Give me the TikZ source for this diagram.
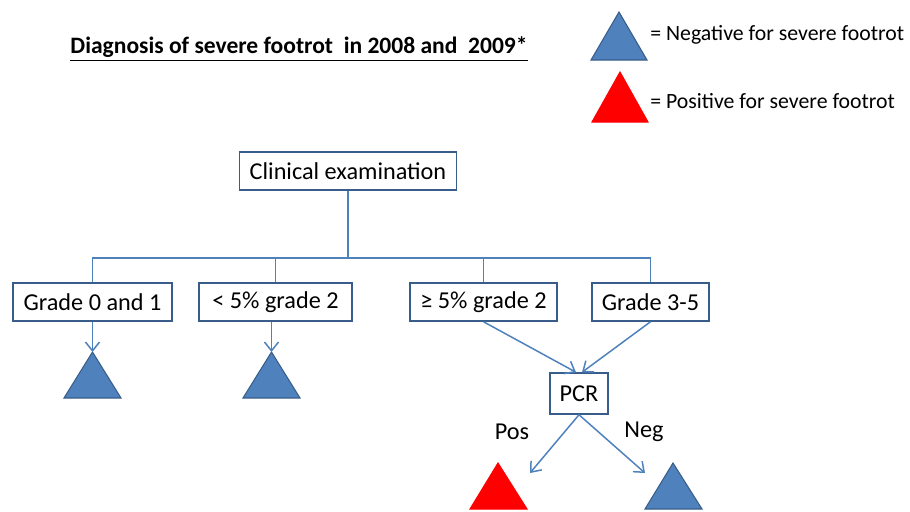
\documentclass[tikz,border=0pt]{standalone}
\usepackage{fontspec}
\setmainfont{Carlito}
\usepackage{xcolor}
\usepackage{tikz}
\usetikzlibrary{positioning, arrows.meta, calc}

\definecolor{lineblue}{RGB}{79,129,189}
\definecolor{edgeblue}{RGB}{56,93,138}
\definecolor{posred}{RGB}{255,0,0}
\newcommand{\pxu}{0.02cm}

\tikzset{
  box/.style={draw=edgeblue, line width=0.85pt, fill=white, minimum height=38*\pxu, inner sep=1pt, font=\fontsize{13.8}{16}\selectfont},
  link/.style={draw=lineblue, line width=0.85pt},
  arr/.style={link, -{Straight Barb[length=5pt, width=8pt]}},
  negtri/.style={fill=lineblue, draw=edgeblue, line width=0.6pt},
  postri/.style={fill=posred, draw=posred, line width=0.6pt},
  lbl/.style={font=\fontsize{13.8}{16}\selectfont}
}

\begin{document}
\begin{tikzpicture}[x=0.02cm, y=-0.02cm]
  \clip (0,0) rectangle (910,511);
  % title and legend
  \node[font=\fontsize{13.4}{16}\bfseries] (title) at (299,49) {\underline{Diagnosis of severe footrot\ \ in 2008 and\ \ 2009*}};
  \draw[negtri] (591,60) -- (619,12) -- (647,60) -- cycle;
  \draw[postri] (592,122) -- (620,72) -- (648,122) -- cycle;
  \node[anchor=west, inner sep=0pt, font=\fontsize{12.4}{15}\selectfont] (negkey) at (650,35) {= Negative for severe footrot};
  \node[anchor=west, inner sep=0pt, font=\fontsize{12.4}{15}\selectfont] (poskey) at (650,101) {= Positive for severe footrot};

  % decision tree
  \node[box, minimum width=217*\pxu] (clin) at (348,171) {Clinical examination};
  \node[box, minimum width=159*\pxu] (g0) at (92.5,302) {Grade 0 and 1};
  \node[box, minimum width=153*\pxu] (g1) at (275.5,302) {< 5\% grade 2};
  \node[box, minimum width=147*\pxu] (g2) at (483.5,302) {≥ 5\% grade 2};
  \node[box, minimum width=117*\pxu] (g3) at (650.5,302) {Grade 3-5};
  \node[box, minimum width=58*\pxu, minimum height=41*\pxu] (pcr) at (579,393.5) {PCR};

  \coordinate (bus) at (348,258);
  \draw[link] (clin.south) -- (bus);
  \foreach \n in {g0,g1,g2,g3}
    \draw[link] (\n.north) |- (bus);

  % outcome triangles
  \draw[negtri] (64,398) -- (92.5,352) -- (121,398) -- cycle;
  \draw[negtri] (243,398) -- (271.5,352) -- (300,398) -- cycle;
  \draw[postri] (470,509) -- (498,463) -- (527,509) -- cycle;
  \draw[negtri] (645,509) -- (673,463) -- (702,509) -- cycle;
  \coordinate (t0) at (92.5,352);
  \coordinate (t1) at (271.5,352);
  \coordinate (tpos) at (530,473);
  \coordinate (tneg) at (645,473);

  \draw[arr] (g0.south) -- (t0);
  \draw[arr] (g1.south -| t1) -- (t1);
  \draw[arr] (g2.south) -- ($(pcr.north)+(-3,0)$);
  \draw[arr] (g3.south) -- ($(pcr.north)+(3,0)$);
  \draw[arr] (pcr.south) -- (tpos);
  \draw[arr] (pcr.south) -- (tneg);
  \node[lbl] (pos) at (512,432) {Pos};
  \node[lbl] (neg) at (644,432) {Neg};
\end{tikzpicture}
\end{document}
